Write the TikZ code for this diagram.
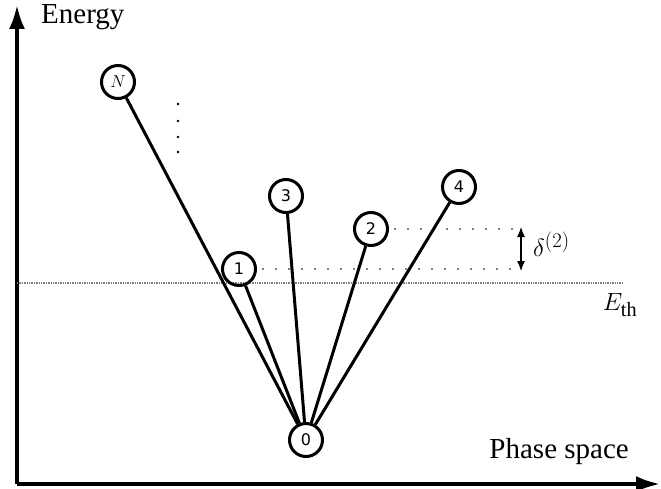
\documentclass[tikz,border=0pt]{standalone}
\usepackage{fontspec}
\setmainfont{Liberation Serif}
\newfontfamily\numfont{DejaVu Sans}
\usetikzlibrary{arrows.meta}
\usetikzlibrary{positioning}
\tikzset{
  nivel/.style={draw, circle, line width=3pt, minimum size=33pt, inner sep=0pt, font=\numfont\fontsize{16}{16}\selectfont},
  ligacao/.style={line width=3pt},
  eixo/.style={line width=3.5pt, -{Latex[length=24pt,width=16pt]}},
  pontilhado/.style={line width=1.8pt, line cap=round, dash pattern=on 0pt off 13pt},
  limiar/.style={line width=1.4pt, gray, densely dotted},
  rotulo/.style={font=\fontsize{29}{29}\selectfont, inner sep=0pt},
}
\begin{document}
\begin{tikzpicture}[x=1pt, y=-1pt]
  \useasboundingbox (0,0) rectangle (661,489);
  % eixos
  \coordinate (origem) at (17,484);
  \coordinate (topo) at (17,5);
  \coordinate (fim) at (660,484);
  \draw[eixo] (origem) -- (topo);
  \draw[eixo] (origem) -- (fim);
  \node[rotulo, anchor=west] (energia) at (41,17) {Energy};
  \node[rotulo, anchor=east] (fase) at (629,452) {Phase space};
  % limiar
  \coordinate (lim0) at (17,283);
  \coordinate (lim1) at (622,283);
  \draw[limiar] (lim0) -- (lim1);
  \node[rotulo] (eth) at (620,305) {$E_{\mathrm{th}}$};
  % niveis
  \node[nivel] (n0) at (306,440) {0};
  \node[nivel] (n1) at (239,269) {1};
  \node[nivel] (n2) at (371,229) {2};
  \node[nivel] (n3) at (286,196) {3};
  \node[nivel] (n4) at (459,187) {4};
  \node[nivel, font=\fontsize{16}{16}\selectfont] (nN) at (118,82) {$N$};
  \foreach \k in {1,2,3,4,N}
    \draw[ligacao] (n\k) -- (n0);
  \foreach \y in {104,121,137,152}
    \fill (178,\y) circle (1.4pt);
  % delta
  \coordinate (d1) at (515,269);
  \coordinate (d2) at (515,229);
  \draw[pontilhado] ([xshift=6pt]n1.east) -- (d1);
  \draw[pontilhado] ([xshift=6pt]n2.east) -- (d2);
  \coordinate (s1) at (521,271);
  \coordinate (s2) at (521,227);
  \draw[line width=1.1pt, {Latex[length=10pt,width=8pt]}-{Latex[length=10pt,width=8pt]}] (s2) -- (s1);
  \node[rotulo, anchor=west] (delta) at (533,244) {$\delta^{(2)}$};
\end{tikzpicture}
\end{document}
